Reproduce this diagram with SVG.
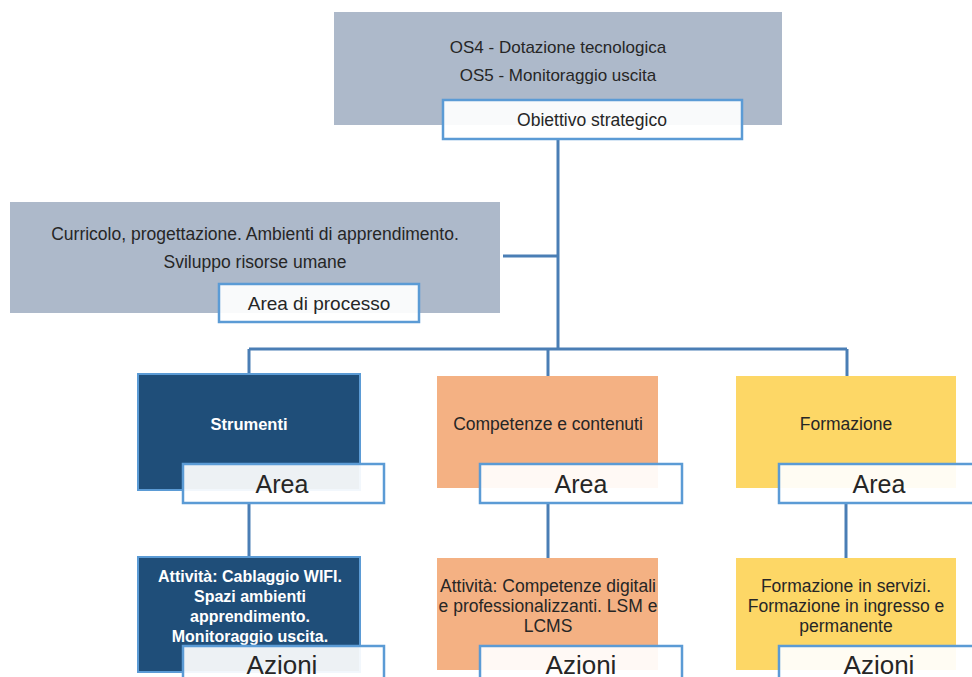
<svg xmlns="http://www.w3.org/2000/svg" width="972" height="677" viewBox="0 0 972 677">
<style>
text{font-family:"Liberation Sans",Arial,sans-serif;fill:#262626;text-anchor:middle}
.t14{font-size:17.5px}
.lbl{fill:#ffffff;fill-opacity:0.92;stroke:#5b9bd5;stroke-width:2.5}
.big{font-size:25px}
.wb{fill:#ffffff;font-weight:bold;font-size:16px}
.conn{stroke:#4a7eb5;stroke-width:3;fill:none}
.gray{fill:#adb9ca}
.navy{fill:#1f4e79;stroke:#5b9bd5;stroke-width:2}
.orange{fill:#f4b183}
.yellow{fill:#fdd766}
</style>
<rect width="972" height="677" fill="#ffffff"/>
<g id="connectors">
<path class="conn" d="M558,139 V349"/>
<path class="conn" d="M503,256 H558"/>
<path class="conn" d="M249,349 H847"/>
<path class="conn" d="M249,349 V374"/>
<path class="conn" d="M548,349 V376"/>
<path class="conn" d="M847,349 V376"/>
<path class="conn" d="M249,503 V557"/>
<path class="conn" d="M548,503 V558"/>
<path class="conn" d="M846,503 V558"/>
</g>
<g id="obiettivo">
<rect class="gray" x="334" y="12" width="448" height="113"/>
<text class="t14" x="558" y="53" style="font-size:17px">OS4 - Dotazione tecnologica</text>
<text class="t14" x="558" y="81" style="font-size:17px">OS5 - Monitoraggio uscita</text>
<rect class="lbl" x="443" y="100" width="299" height="39"/>
<text class="t14" x="592" y="126">Obiettivo strategico</text>
</g>
<g id="area-processo">
<rect class="gray" x="10" y="202" width="490" height="111"/>
<text class="t14" x="255" y="240">Curricolo, progettazione. Ambienti di apprendimento.</text>
<text class="t14" x="255" y="268">Sviluppo risorse umane</text>
<rect class="lbl" x="219" y="284" width="200" height="38"/>
<text x="319" y="310" style="font-size:19px">Area di processo</text>
</g>
<g id="strumenti">
<rect class="navy" x="138" y="374" width="222" height="116"/>
<text class="wb" x="249" y="430" style="font-size:16.5px">Strumenti</text>
<rect class="lbl" x="183" y="464" width="201" height="39"/>
<text class="big" x="282" y="493">Area</text>
</g>
<g id="competenze">
<rect class="orange" x="437" y="376" width="221" height="112"/>
<text class="t14" x="548" y="430">Competenze e contenuti</text>
<rect class="lbl" x="480" y="464" width="202" height="39"/>
<text class="big" x="581" y="493">Area</text>
</g>
<g id="formazione">
<rect class="yellow" x="736" y="376" width="220" height="112"/>
<text class="t14" x="846" y="430">Formazione</text>
<rect class="lbl" x="779" y="464" width="202" height="39"/>
<text class="big" x="879" y="493">Area</text>
</g>
<g id="azioni-strumenti">
<rect class="navy" x="138" y="557" width="222" height="115"/>
<text class="wb" x="250" y="582">Attività: Cablaggio WIFI.</text>
<text class="wb" x="250" y="602">Spazi ambienti</text>
<text class="wb" x="250" y="622">apprendimento.</text>
<text class="wb" x="250" y="642">Monitoraggio uscita.</text>
<rect class="lbl" x="183" y="646" width="201" height="40"/>
<text class="big" x="282" y="674" style="font-size:26px">Azioni</text>
</g>
<g id="azioni-competenze">
<rect class="orange" x="437" y="558" width="221" height="112"/>
<text class="t14" x="548" y="592">Attività: Competenze digitali</text>
<text class="t14" x="548" y="612">e professionalizzanti. LSM e</text>
<text class="t14" x="548" y="632">LCMS</text>
<rect class="lbl" x="480" y="646" width="202" height="40"/>
<text class="big" x="581" y="674" style="font-size:26px">Azioni</text>
</g>
<g id="azioni-formazione">
<rect class="yellow" x="736" y="558" width="220" height="112"/>
<text class="t14" x="846" y="592">Formazione in servizi.</text>
<text class="t14" x="846" y="612">Formazione in ingresso e</text>
<text class="t14" x="846" y="632">permanente</text>
<rect class="lbl" x="779" y="646" width="202" height="40"/>
<text class="big" x="879" y="674" style="font-size:26px">Azioni</text>
</g>
</svg>
